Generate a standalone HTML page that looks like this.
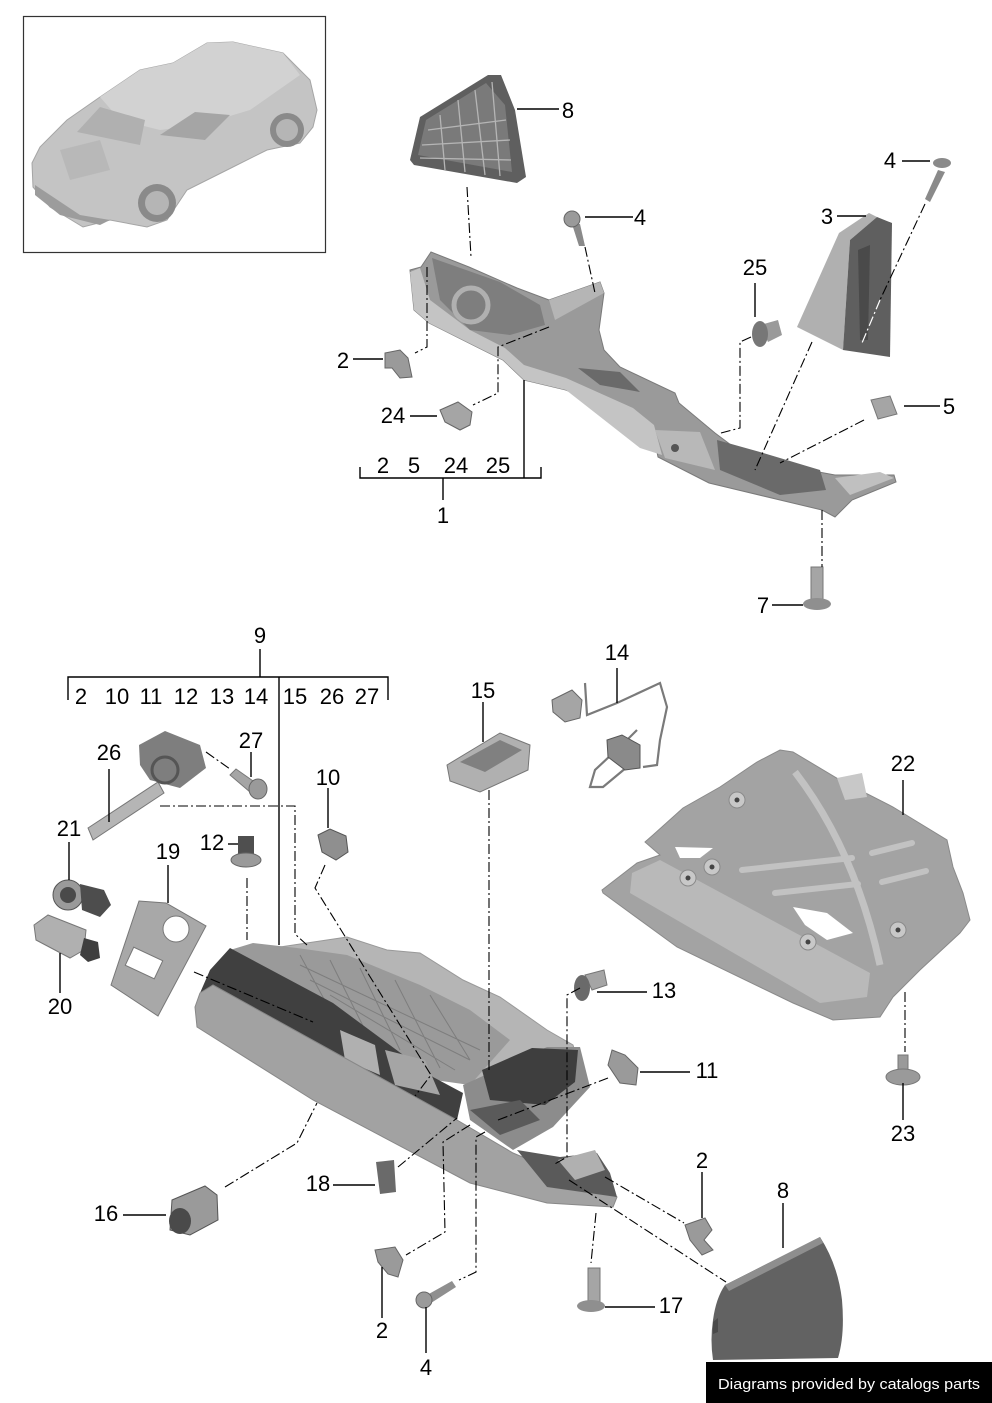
<!DOCTYPE html>
<html><head><meta charset="utf-8"><style>
html,body{margin:0;padding:0;background:#fff;}
svg{display:block;}
text{font-family:"Liberation Sans",Arial,sans-serif;font-size:22px;fill:#000;}
.l{stroke:#000;stroke-width:1.4;fill:none;}
.d{stroke:#000;stroke-width:1.1;fill:none;stroke-dasharray:10 3 2 3;}
.w{stroke:#fff;stroke-width:1.2;fill:none;stroke-dasharray:10 3 2 3;}
</style></head><body>
<svg width="992" height="1403" viewBox="0 0 992 1403" xmlns="http://www.w3.org/2000/svg">
<rect width="992" height="1403" fill="#fff"/>

<!-- Car thumbnail -->
<rect x="23.5" y="16.5" width="302" height="236" fill="#fff" stroke="#333" stroke-width="1.2"/>
<path d="M32,163 L40,147 L67,120 L100,97 L140,70 L173,63 L207,43 L233,42 L283,53 L310,80 L317,110 L313,127 L300,143 L267,150 L233,167 L187,190 L167,220 L147,227 L110,220 L83,227 L50,207 L33,187 Z" fill="#c4c4c4" stroke="#a5a5a5"/>
<path d="M100,97 L140,70 L173,63 L207,43 L233,42 L283,53 L300,75 L250,110 L200,125 L160,130 L120,120 Z" fill="#d2d2d2"/>
<path d="M77,132 L100,107 L145,120 L140,145 Z" fill="#b0b0b0"/>
<path d="M160,135 L195,112 L230,115 L205,140 Z" fill="#a5a5a5"/>
<path d="M60,150 L100,140 L110,170 L70,180 Z" fill="#b8b8b8"/>
<circle cx="157" cy="203" r="19" fill="#8a8a8a"/><circle cx="157" cy="203" r="12" fill="#b5b5b5"/>
<circle cx="287" cy="130" r="17" fill="#8a8a8a"/><circle cx="287" cy="130" r="11" fill="#b5b5b5"/>
<path d="M35,185 L80,215 L110,220 L100,225 L60,215 L35,195 Z" fill="#9c9c9c"/>

<!-- TOP SECTION -->
<!-- part 8 top -->
<path d="M410,160 L420,117 L488,75 L501,75 L515,110 L526,177 L517,183 L414,165 Z" fill="#5f5f5f"/>
<path d="M418,155 L426,120 L486,83 L505,105 L512,172 Z" fill="#7a7a7a"/>
<g stroke="#b5b5b5" stroke-width="1.3" fill="none">
<path d="M428,130 L506,120 M422,145 L510,140 M420,158 L511,160"/>
<path d="M440,115 L445,170 M458,100 L465,172 M475,90 L485,175 M492,82 L500,176"/>
</g>
<!-- part 1 bracket -->
<path d="M410,270 L421,267 L431,252 L469,267 L517,288 L549,300 L600,282 L604,293 L599,330 L604,350 L620,367 L675,393 L679,403 L715,433 L755,463 L797,468 L835,475 L894,475 L896,482 L852,500 L835,517 L822,510 L780,500 L709,483 L658,457 L654,437 L633,420 L566,390 L524,380 L503,360 L469,343 L429,323 L414,310 Z" fill="#9a9a9a" stroke="#7a7a7a"/>
<path d="M410,272 L420,268 L430,300 L470,330 L505,348 L524,365 L566,378 L633,408 L654,425 L662,455 L640,448 L566,390 L524,380 L503,360 L469,343 L429,323 L414,310 Z" fill="#c4c4c4"/>
<path d="M432,258 L500,282 L540,305 L545,325 L510,335 L470,330 L440,300 Z" fill="#7e7e7e"/>
<circle cx="471" cy="305" r="17" fill="none" stroke="#b0b0b0" stroke-width="5"/>
<path d="M549,300 L600,282 L604,293 L555,320 Z" fill="#b5b5b5"/>
<path d="M578,368 L620,372 L640,392 L600,385 Z" fill="#6a6a6a"/>
<path d="M717,440 L760,452 L820,470 L826,490 L780,495 L720,470 Z" fill="#6a6a6a"/>
<path d="M655,430 L700,432 L715,470 L665,458 Z" fill="#b8b8b8"/>
<circle cx="675" cy="448" r="4" fill="#555"/>
<path d="M835,478 L880,472 L894,478 L850,495 Z" fill="#c0c0c0"/>
<!-- part 3 -->
<path d="M797,327 L839,233 L869,213 L877,217 L850,240 L843,350 Z" fill="#b0b0b0"/>
<path d="M850,240 L877,217 L892,223 L890,357 L843,350 Z" fill="#5f5f5f"/>
<path d="M858,250 L870,245 L868,340 L860,340 Z" fill="#4a4a4a"/>
<!-- part 4 top-right bolt -->
<path d="M938,170 L945,172 L930,202 L925,199 Z" fill="#8a8a8a"/>
<ellipse cx="942" cy="163" rx="9" ry="5" fill="#8a8a8a"/>
<!-- part 4 mid screw -->
<path d="M572,224 L580,224 L585,246 L579,246 Z" fill="#8a8a8a"/>
<circle cx="572" cy="219" r="8" fill="#9a9a9a" stroke="#666"/>
<!-- part 25 -->
<path d="M760,325 L778,320 L782,335 L768,342 Z" fill="#9a9a9a"/>
<ellipse cx="760" cy="334" rx="8" ry="13" fill="#777"/>
<!-- part 5 -->
<path d="M871,400 L890,396 L897,414 L878,419 Z" fill="#a5a5a5" stroke="#777"/>
<!-- part 2 top -->
<path d="M385,353 L400,350 L408,358 L412,377 L400,378 L392,368 L385,368 Z" fill="#9a9a9a" stroke="#666"/>
<!-- part 24 -->
<path d="M440,410 L458,402 L472,412 L470,425 L460,430 L445,422 Z" fill="#a5a5a5" stroke="#666"/>
<!-- part 7 -->
<rect x="811" y="567" width="12" height="33" fill="#a5a5a5" stroke="#777"/>
<ellipse cx="817" cy="604" rx="14" ry="6" fill="#8f8f8f"/>

<!-- top labels & leaders -->
<path class="l" d="M517,109 L559,109"/><text x="568" y="118" text-anchor="middle">8</text>
<path class="l" d="M902,161 L930,161"/><text x="890" y="168" text-anchor="middle">4</text>
<path class="l" d="M585,217 L633,217"/><text x="640" y="225" text-anchor="middle">4</text>
<path class="l" d="M837,216 L866,216"/><text x="827" y="224" text-anchor="middle">3</text>
<path class="l" d="M755,283 L755,317"/><text x="755" y="275" text-anchor="middle">25</text>
<path class="l" d="M353,359 L383,359"/><text x="343" y="368" text-anchor="middle">2</text>
<path class="l" d="M410,416 L437,416"/><text x="393" y="423" text-anchor="middle">24</text>
<path class="l" d="M904,406 L940,406"/><text x="949" y="414" text-anchor="middle">5</text>
<path class="l" d="M772,605 L803,605"/><text x="763" y="613" text-anchor="middle">7</text>
<text x="383" y="473" text-anchor="middle">2</text>
<text x="414" y="473" text-anchor="middle">5</text>
<text x="456" y="473" text-anchor="middle">24</text>
<text x="498" y="473" text-anchor="middle">25</text>
<path class="l" d="M360,467 L360,478 L541,478 L541,467 M524,380 L524,478 M443,478 L443,500"/>
<text x="443" y="523" text-anchor="middle">1</text>

<!-- top dashes -->
<path class="d" d="M467,187 L471,257"/>
<path class="d" d="M585,247 L595,293"/>
<path class="d" d="M427,267 L427,347 L415,353"/>
<path class="d" d="M549,327 L498,347 L498,393 L473,405"/>
<path class="d" d="M751,337 L740,342 L740,428 L721,433"/>
<path class="d" d="M812,342 L755,470"/>
<path class="d" d="M925,204 L880,300"/>
<path class="w" d="M880,300 L862,343"/>
<path class="d" d="M864,420 L780,463"/>
<path class="d" d="M822,510 L822,567"/>

<!-- BOTTOM SECTION -->
<!-- part 22 plate -->
<path d="M602,890 L637,863 L660,855 L645,842 L653,835 L683,808 L720,787 L757,762 L780,750 L793,752 L840,780 L893,807 L947,840 L953,867 L963,893 L970,920 L960,933 L920,970 L893,997 L880,1017 L833,1020 L793,1003 L677,947 L603,893 Z" fill="#a3a3a3" stroke="#8a8a8a"/>
<path d="M632,873 L660,860 L870,973 L867,997 L820,1003 L630,893 Z" fill="#b9b9b9"/>
<path d="M795,772 Q855,850 880,965" stroke="#c2c2c2" stroke-width="7" fill="none"/>
<g stroke="#c2c2c2" stroke-width="6" stroke-linecap="round">
<path d="M742,870 L852,858 M775,893 L858,884 M872,853 L912,843 M882,882 L926,871"/>
</g>
<path d="M675,847 L713,848 L700,858 L680,858 Z" fill="#fff"/>
<path d="M793,907 L827,913 L853,933 L827,940 L805,925 Z" fill="#fff"/>
<path d="M837,778 L862,773 L867,797 L845,800 Z" fill="#c8c8c8"/>
<g fill="#c8c8c8" stroke="#8a8a8a"><circle cx="737" cy="800" r="8"/><circle cx="712" cy="867" r="8"/><circle cx="688" cy="878" r="8"/><circle cx="808" cy="942" r="8"/><circle cx="898" cy="930" r="8"/></g>
<g fill="#444"><circle cx="737" cy="800" r="2.5"/><circle cx="712" cy="867" r="2.5"/><circle cx="688" cy="878" r="2.5"/><circle cx="808" cy="942" r="2.5"/><circle cx="898" cy="930" r="2.5"/></g>

<!-- part 14 wire -->
<path d="M585,683 L587,715 L617,703 L660,683 L667,707 L660,740 L657,765 L643,767 M637,757 L627,767 L603,787 L590,787 L595,770 L627,740 L637,730" stroke="#7a7a7a" stroke-width="2.2" fill="none"/>
<path d="M552,700 L572,690 L582,700 L580,718 L565,722 L553,712 Z" fill="#a5a5a5" stroke="#666"/>
<path d="M607,740 L622,735 L640,745 L640,768 L625,770 L608,757 Z" fill="#8a8a8a" stroke="#555"/>
<!-- part 15 -->
<path d="M447,765 L500,733 L530,745 L528,770 L480,792 L450,781 Z" fill="#b0b0b0" stroke="#777"/>
<path d="M460,762 L500,740 L522,750 L485,772 Z" fill="#808080"/>
<!-- part 26 -->
<path d="M88,828 L158,782 L164,793 L93,840 Z" fill="#b5b5b5" stroke="#777"/>
<path d="M139,745 L165,731 L200,745 L206,768 L180,788 L150,780 L140,765 Z" fill="#7e7e7e"/>
<circle cx="165" cy="770" r="13" fill="none" stroke="#555" stroke-width="3"/>
<!-- part 27 -->
<path d="M230,775 L236,769 L256,783 L250,792 Z" fill="#a5a5a5" stroke="#777"/>
<ellipse cx="258" cy="789" rx="9" ry="10" fill="#9a9a9a" stroke="#666"/>
<!-- part 21 -->
<circle cx="68" cy="895" r="15" fill="#9a9a9a" stroke="#555"/>
<circle cx="68" cy="895" r="8" fill="#4a4a4a"/>
<path d="M80,884 L104,890 L111,905 L100,917 L82,910 Z" fill="#4d4d4d"/>
<!-- part 20 -->
<path d="M34,925 L48,915 L86,930 L84,950 L70,958 L36,940 Z" fill="#b0b0b0" stroke="#777"/>
<path d="M84,938 L98,942 L100,958 L88,962 L80,955 Z" fill="#3f3f3f"/>
<!-- part 19 -->
<path d="M111,985 L139,901 L166,903 L206,926 L158,1016 Z" fill="#a8a8a8" stroke="#777"/>
<circle cx="176" cy="929" r="13" fill="#fff" stroke="#777"/>
<rect x="128" y="953" width="32" height="20" fill="#fff" stroke="#777" transform="rotate(25 144 963)"/>
<!-- part 12 -->
<rect x="238" y="836" width="16" height="22" fill="#4f4f4f"/>
<ellipse cx="246" cy="860" rx="15" ry="7" fill="#9a9a9a" stroke="#666"/>
<!-- part 10 -->
<path d="M318,835 L330,829 L346,836 L348,852 L336,860 L322,852 Z" fill="#8f8f8f" stroke="#555"/>
<!-- glove box -->
<path d="M280,947 L347,937 L387,950 L420,953 L463,980 L500,997 L547,1030 L573,1045 L580,1070 L513,1087 L413,1073 L280,970 Z" fill="#b5b5b5" stroke="#999"/>
<path d="M230,950 L253,943 L297,948 L347,955 L420,985 L470,1010 L510,1040 L470,1085 L413,1077 L330,1020 Z" fill="#9a9a9a"/>
<g stroke="#7d7d7d" stroke-width="1"><path d="M300,965 L480,1050 M310,980 L470,1060 M330,995 L455,1070 M300,955 L330,1010 M330,960 L365,1030 M360,968 L400,1050 M395,980 L440,1068 M430,995 L470,1060"/></g>
<path d="M230,948 L333,1003 L433,1077 L463,1093 L457,1120 L213,985 L200,993 L210,970 Z" fill="#404040"/>
<path d="M340,1030 L375,1045 L380,1075 L345,1060 Z" fill="#b0b0b0"/>
<path d="M385,1050 L425,1060 L440,1095 L395,1085 Z" fill="#a5a5a5"/>
<path d="M463,1085 L547,1047 L580,1047 L590,1087 L553,1127 L513,1150 L470,1120 Z" fill="#8c8c8c"/>
<path d="M482,1070 L532,1048 L578,1050 L575,1082 L545,1105 L490,1100 Z" fill="#3e3e3e"/>
<path d="M470,1110 L520,1100 L540,1120 L500,1135 Z" fill="#5a5a5a"/>
<path d="M200,993 L213,985 L457,1120 L513,1153 L617,1197 L613,1207 L547,1203 L470,1183 L313,1100 L197,1027 L195,1007 Z" fill="#a2a2a2" stroke="#888"/>
<path d="M517,1150 L560,1157 L597,1153 L610,1173 L617,1197 L547,1187 Z" fill="#5a5a5a"/>
<path d="M558,1160 L595,1150 L605,1170 L575,1180 Z" fill="#b0b0b0"/>
<!-- part 16 -->
<path d="M172,1200 L205,1186 L217,1195 L218,1220 L190,1235 L170,1230 Z" fill="#9a9a9a" stroke="#555"/>
<ellipse cx="180" cy="1221" rx="11" ry="13" fill="#4a4a4a"/>
<!-- part 18 -->
<path d="M376,1162 L394,1160 L396,1192 L380,1194 Z" fill="#6a6a6a"/>
<!-- part 13 -->
<path d="M585,975 L604,970 L607,985 L592,990 Z" fill="#a5a5a5" stroke="#777"/>
<ellipse cx="582" cy="988" rx="8" ry="13" fill="#6a6a6a"/>
<!-- part 11 -->
<path d="M612,1050 L625,1055 L638,1068 L636,1085 L620,1083 L608,1065 Z" fill="#9a9a9a" stroke="#666"/>
<!-- part 23 -->
<rect x="898" y="1055" width="10" height="20" fill="#9a9a9a" stroke="#777"/>
<ellipse cx="903" cy="1077" rx="17" ry="8" fill="#9a9a9a" stroke="#777"/>
<!-- part 2 right -->
<path d="M685,1225 L705,1218 L712,1230 L704,1240 L713,1250 L702,1255 L690,1240 Z" fill="#9a9a9a" stroke="#666"/>
<!-- part 2 left -->
<path d="M375,1250 L395,1247 L403,1260 L398,1277 L388,1274 L378,1262 Z" fill="#9a9a9a" stroke="#666"/>
<!-- part 4 bottom screw -->
<path d="M427,1295 L452,1281 L456,1287 L431,1303 Z" fill="#8f8f8f"/>
<circle cx="424" cy="1300" r="8" fill="#9a9a9a" stroke="#666"/>
<!-- part 17 -->
<rect x="588" y="1268" width="12" height="34" fill="#a5a5a5" stroke="#777"/>
<ellipse cx="591" cy="1306" rx="14" ry="6" fill="#8f8f8f"/>
<!-- part 8 bottom -->
<path d="M725,1285 L820,1237 Q838,1265 842,1300 Q845,1335 838,1358 L713,1360 Q710,1340 713,1320 Q716,1298 725,1285 Z" fill="#626262"/>
<path d="M725,1285 L820,1237 L823,1243 L729,1291 Z" fill="#8e8e8e"/>
<path d="M713,1322 L718,1318 L718,1332 L713,1334 Z" fill="#4a4a4a"/>

<!-- bottom labels & leaders -->
<text x="260" y="643" text-anchor="middle">9</text>
<path class="l" d="M260,649 L260,677 M68,700 L68,677 L388,677 L388,700 M279,677 L279,945"/>
<text x="81" y="704" text-anchor="middle">2</text>
<text x="117" y="704" text-anchor="middle">10</text>
<text x="151" y="704" text-anchor="middle">11</text>
<text x="186" y="704" text-anchor="middle">12</text>
<text x="222" y="704" text-anchor="middle">13</text>
<text x="256" y="704" text-anchor="middle">14</text>
<text x="295" y="704" text-anchor="middle">15</text>
<text x="332" y="704" text-anchor="middle">26</text>
<text x="367" y="704" text-anchor="middle">27</text>

<text x="617" y="660" text-anchor="middle">14</text><path class="l" d="M617,668 L617,703"/>
<text x="483" y="698" text-anchor="middle">15</text><path class="l" d="M483,702 L483,742"/>
<text x="109" y="760" text-anchor="middle">26</text><path class="l" d="M109,769 L109,822"/>
<text x="251" y="748" text-anchor="middle">27</text><path class="l" d="M251,752 L251,777"/>
<text x="328" y="785" text-anchor="middle">10</text><path class="l" d="M328,788 L328,828"/>
<text x="903" y="771" text-anchor="middle">22</text><path class="l" d="M903,780 L903,815"/>
<text x="69" y="836" text-anchor="middle">21</text><path class="l" d="M69,842 L69,880"/>
<text x="212" y="850" text-anchor="middle">12</text><path class="l" d="M228,844 L238,844"/>
<text x="168" y="859" text-anchor="middle">19</text><path class="l" d="M168,865 L168,903"/>
<text x="60" y="1014" text-anchor="middle">20</text><path class="l" d="M60,953 L60,993"/>
<text x="664" y="998" text-anchor="middle">13</text><path class="l" d="M597,992 L647,992"/>
<text x="707" y="1078" text-anchor="middle">11</text><path class="l" d="M640,1072 L690,1072"/>
<text x="903" y="1141" text-anchor="middle">23</text><path class="l" d="M903,1083 L903,1120"/>
<text x="106" y="1221" text-anchor="middle">16</text><path class="l" d="M123,1215 L166,1215"/>
<text x="318" y="1191" text-anchor="middle">18</text><path class="l" d="M333,1185 L375,1185"/>
<text x="702" y="1168" text-anchor="middle">2</text><path class="l" d="M702,1172 L702,1218"/>
<text x="783" y="1198" text-anchor="middle">8</text><path class="l" d="M783,1203 L783,1248"/>
<text x="671" y="1313" text-anchor="middle">17</text><path class="l" d="M605,1307 L655,1307"/>
<text x="382" y="1338" text-anchor="middle">2</text><path class="l" d="M382,1267 L382,1318"/>
<text x="426" y="1375" text-anchor="middle">4</text><path class="l" d="M426,1307 L426,1353"/>

<!-- bottom dashes -->
<path class="d" d="M160,806 L295,806 L295,934 L307,945"/>
<path class="d" d="M206,752 L230,769"/>
<path class="d" d="M247,878 L247,940"/>
<path class="d" d="M325,865 L315,888 L431,1075 L415,1096"/>
<path class="d" d="M489,790 L489,1072"/>
<path class="d" d="M194,972 L313,1022"/>
<path class="d" d="M225,1187 L297,1143 L317,1103"/>
<path class="d" d="M398,1167 L457,1118"/>
<path class="d" d="M470,1125 L443,1142 L445,1232 L406,1255"/>
<path class="d" d="M485,1132 L476,1137 L476,1272 L459,1280"/>
<path class="d" d="M498,1120 L608,1078"/>
<path class="d" d="M580,988 L567,995 L567,1157 L553,1165"/>
<path class="d" d="M596,1213 L591,1263"/>
<path class="d" d="M569,1180 L726,1282"/>
<path class="d" d="M605,1177 L684,1223"/>
<path class="d" d="M905,992 L905,1052"/>

<!-- watermark -->
<rect x="706" y="1362" width="286" height="41" fill="#000"/>
<text x="718" y="1389" style="font-size:15px;fill:#fff" textLength="262" lengthAdjust="spacingAndGlyphs">Diagrams provided by catalogs parts</text>
</svg>
</body></html>
